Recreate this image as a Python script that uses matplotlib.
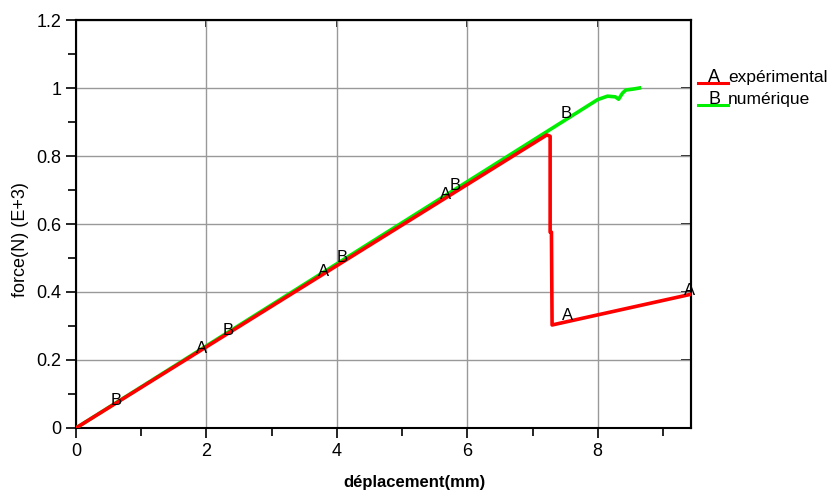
import matplotlib
matplotlib.use("Agg")
import matplotlib.pyplot as plt
from matplotlib.lines import Line2D

plt.rcParams['font.family'] = ['Liberation Sans', 'DejaVu Sans']

# experimental (A)
exp_x = [0, 7.22, 7.27, 7.27, 7.29, 7.30, 9.42]
exp_y = [0, 0.862, 0.858, 0.576, 0.576, 0.303, 0.393]
# numerical (B)
num_x = [0, 8.0, 8.15, 8.27, 8.32, 8.38, 8.43, 8.55, 8.64]
num_y = [0, 0.966, 0.976, 0.974, 0.967, 0.985, 0.994, 0.997, 1.0]

# curve markers (letters)
a_x = [1.93, 3.79, 5.67, 7.54, 9.41]
a_y = [0.235, 0.459, 0.688, 0.33, 0.405]
b_x = [0.61, 2.34, 4.08, 5.81, 7.52]
b_y = [0.082, 0.288, 0.50, 0.712, 0.926]

xticks = [0, 2, 4, 6, 8]
yticks = [0, 0.2, 0.4, 0.6, 0.8, 1.0, 1.2]
ytick_labels = ['0', '0.2', '0.4', '0.6', '0.8', '1', '1.2']

W, H = 833, 494
fig = plt.figure(figsize=(W/100, H/100), dpi=100)
L, R, T, B = 76, 691, 20, 428
ax = fig.add_axes([L/W, 1-B/H, (R-L)/W, (B-T)/H])

red = '#ff0000'
green = '#00ee00'
ax.plot(num_x, num_y, color=green, lw=2.6, solid_joinstyle='round', zorder=3)
ax.plot(exp_x, exp_y, color=red, lw=2.6, solid_joinstyle='round', zorder=4)

for x, y in zip(a_x, a_y):
    ax.text(x, y, 'A', ha='center', va='center', fontsize=12, color='black', zorder=6, clip_on=False)
for x, y in zip(b_x, b_y):
    ax.text(x, y, 'B', ha='center', va='center', fontsize=12, color='black', zorder=6, clip_on=False)

ax.set_xlim(0, 9.43)
ax.set_ylim(0, 1.2)
ax.set_xticks(xticks)
ax.set_xticks([1, 3, 5, 7, 9], minor=True)
ax.set_yticks(yticks)
ax.set_yticklabels(ytick_labels)
ax.set_yticks([0.1, 0.3, 0.5, 0.7, 0.9, 1.1], minor=True)
ax.grid(True, which='major', color='#999999', lw=1)
ax.set_axisbelow(True)
ax.tick_params(which='both', direction='out', color='black', width=1.2, labelsize=13)
ax.tick_params(which='major', length=7)
ax.tick_params(which='minor', length=6)
for s in ax.spines.values():
    s.set_color('black')
    s.set_linewidth(1.5)

secy = ax.secondary_yaxis('right')
secy.set_yticks(yticks)
secy.tick_params(direction='in', length=7, width=1.2, labelright=False)
secy.spines['right'].set_linewidth(1.5)
secx = ax.secondary_xaxis('top')
secx.set_xticks(xticks)
secx.tick_params(direction='in', length=5, width=1.2, labeltop=False)
secx.spines['top'].set_linewidth(1.5)

ax.set_xlabel('déplacement(mm)', fontsize=12, fontweight='bold')
ax.xaxis.set_label_coords((415 - L) / (R - L), -(483 - B) / (B - T), transform=ax.transAxes)
ax.xaxis.label.set_va('center')
ax.set_ylabel('force(N) (E+3)', fontsize=13)
ax.yaxis.set_label_coords(-(L - 21) / (R - L), (B - 240) / (B - T), transform=ax.transAxes)
ax.yaxis.label.set_va('center')

# legend
fig.text(708/W, 1-82/H, 'A', fontsize=13, va='baseline', ha='left')
fig.text(728/W, 1-82/H, 'expérimental', fontsize=12.5, va='baseline', ha='left')
fig.text(708/W, 1-104/H, 'B', fontsize=13, va='baseline', ha='left')
fig.text(728/W, 1-104/H, 'numérique', fontsize=12.5, va='baseline', ha='left')
fig.add_artist(Line2D([698/W, 728/W], [1-83/H, 1-83/H], color=red, lw=2.2))
fig.add_artist(Line2D([698/W, 728/W], [1-105/H, 1-105/H], color=green, lw=2.2))

fig.savefig('out.png', dpi=100)
